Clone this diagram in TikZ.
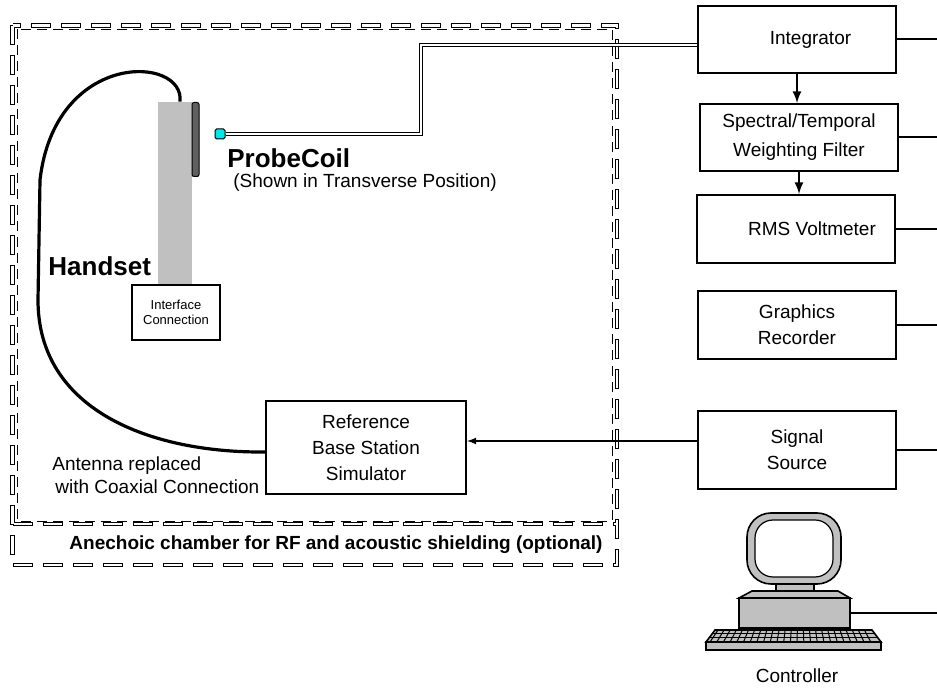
\documentclass[tikz,border=0pt]{standalone}
\usepackage{fontspec}
\setmainfont{Liberation Sans}
\usetikzlibrary{arrows,positioning}
\definecolor{handgray}{RGB}{192,192,192}
\definecolor{coilgray}{RGB}{96,96,96}
\definecolor{pcgray}{RGB}{192,192,192}
\definecolor{probecyan}{RGB}{0,230,230}

\begin{document}
\begin{tikzpicture}[x=0.5pt,y=-0.5pt,
	box/.style={draw,line width=1pt,minimum width=99pt,minimum height=33.5pt,align=center,font=\fontsize{9.5}{13}\selectfont},
	lbl/.style={inner sep=0pt,font=\fontsize{9.5}{11.5}\selectfont},
	big/.style={inner sep=0pt,font=\fontsize{13}{15}\selectfont\bfseries},
	wire/.style={line width=1pt},
	wallout/.style={line width=2.4pt,dash pattern=on 10pt off 5pt},
	wallin/.style={white,line width=1.4pt,dash pattern=on 0pt off 0.5pt on 9pt off 5.5pt},
	cable/.style={line width=1.6pt}]
	\useasboundingbox (0,0) rectangle (937,688);
	\coordinate (edge) at (937,0);
	\draw[wallout] (12.5,25.5) rectangle (617,565) (12.5,524) -- (617,524);
	\draw[wallin] (12.5,25.5) rectangle (617,565) (12.5,524) -- (617,524);
	\draw[line width=0.4pt,dash pattern=on 5pt off 3pt] (17,29) rectangle (612,521);
	\node[lbl,font=\fontsize{9.5}{11}\selectfont\bfseries] (cham) at (336,545) {Anechoic chamber for RF and acoustic shielding (optional)};
	\node[box] (integ) at (797,39.5) {\hspace*{13.5pt}Integrator};
	\node[box,font=\fontsize{9.5}{14.5}\selectfont] (filter) at (799,137.5) {Spectral/Temporal\\Weighting Filter};
	\node[box,minimum height=34pt] (rms) at (795.5,229) {\hspace*{16.5pt}RMS Voltmeter};
	\node[box,minimum height=34pt] (graph) at (797,325) {Graphics\\Recorder};
	\node[box,minimum height=39pt] (sig) at (797,450) {Signal\\Source};
	\node[box,minimum width=100pt,minimum height=46.5pt] (ref) at (366,447.5) {Reference\\Base Station\\Simulator};
	\node[fill=handgray,minimum width=17pt,minimum height=92.5pt,inner sep=0pt] (handset) at (175,194.5) {};
	\node[draw,fill=coilgray,rounded corners=1pt,minimum width=3.5pt,minimum height=37pt,inner sep=0pt,line width=0.5pt] (coil) at (195.5,139.5) {};
	\node[draw,fill=white,line width=1pt,minimum width=44pt,minimum height=27.5pt,align=center,font=\fontsize{6.5}{7.5}\selectfont] (iface) at (176,312.5) {Interface\\Connection};
	\node[draw,fill=probecyan,rounded corners=0.8pt,minimum size=5pt,inner sep=0pt,line width=0.5pt] (probe) at (220,134) {};
	\node[big,anchor=west] (probelbl) at (227,158) {ProbeCoil};
	\node[lbl,anchor=west] (shown) at (233,183) {(Shown in Transverse Position)};
	\node[big,anchor=west] (handlbl) at (48,266) {Handset};
	\node[lbl,anchor=north west,align=left] (ant) at (52,456) {Antenna replaced\\\hspace*{1.5pt}with Coaxial Connection};
	\draw[cable] ([xshift=2.5pt]handset.north) .. controls (185,55) and (55,50) .. (40,180) -- (38,300) .. controls (38,410) and (150,453) .. ([yshift=-2.25pt]ref.west);
	\draw[line width=0.4pt,double,double distance=0.8pt] (probe.east) -| (421,45) -- ([yshift=-2.75pt]integ.west);
	\draw[-latex,wire] (integ.south) -- (integ.south |- filter.north);
	\draw[-latex,wire] (filter.south) -- (filter.south |- rms.north);
	\draw[-latex,line width=0.6pt] ([yshift=4.5pt]sig.west) -- ([yshift=3.25pt]ref.east);
	\foreach \n in {integ,filter,rms,graph,sig}
		\draw[wire] (\n.east) -- (\n.east -| edge);
	\filldraw[fill=pcgray,line width=0.8pt,rounded corners=12pt] (747,513) rectangle (841,584);
	\filldraw[fill=white,line width=0.6pt,rounded corners=9pt] (755,520) rectangle (833,577);
	\filldraw[fill=pcgray,line width=0.8pt] (776,584) rectangle (814,591);
	\filldraw[fill=pcgray,line width=0.8pt] (752,591) -- (838,591) -- (850,598) -- (739,598) -- cycle;
	\node[draw,fill=pcgray,line width=0.8pt,minimum width=55.5pt,minimum height=15pt,inner sep=0pt] (pc) at (794.5,613) {};
	\filldraw[fill=pcgray,line width=0.8pt] (715,630) -- (872,630) -- (881,642) -- (706,642) -- cycle;
	\filldraw[fill=pcgray,line width=0.8pt] (706,642) rectangle (881,650);
	\foreach \i in {0,...,24}
		\draw[line width=0.5pt] (718+6.1*\i,630) -- (710+6.7*\i,642);
	\draw[line width=0.5pt] (712,634) -- (875,634) (709,638) -- (878,638);
	\draw[wire] (pc.east) -- (pc.east -| edge);
	\node[lbl] (ctrl) at (797,676) {Controller};
\end{tikzpicture}
\end{document}
